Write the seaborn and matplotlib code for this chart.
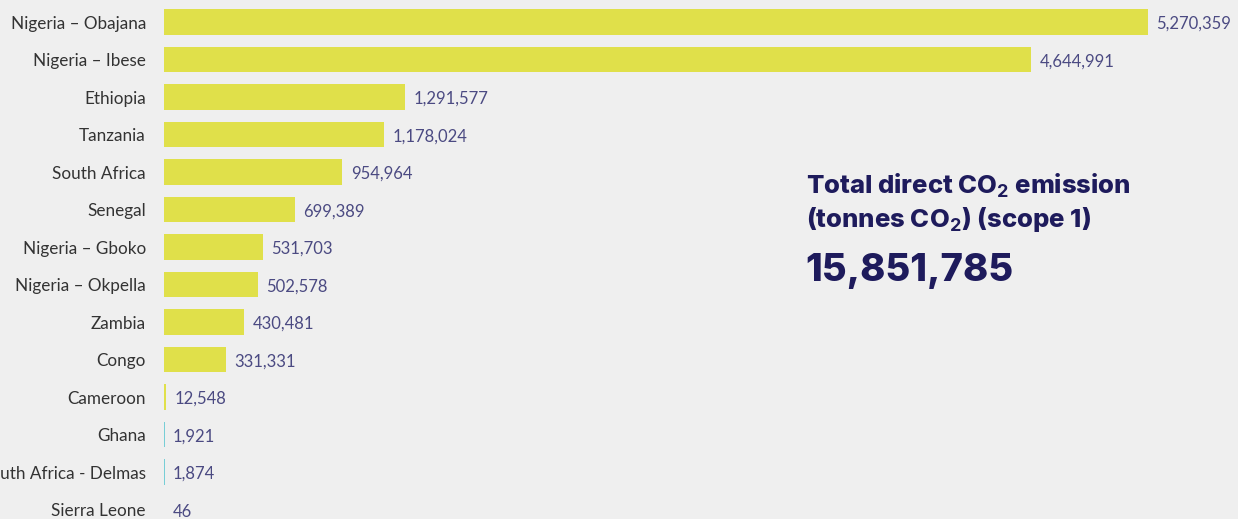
import matplotlib
matplotlib.use("Agg")
import matplotlib.pyplot as plt
import seaborn as sns
import pandas as pd

sites = ["Nigeria – Obajana", "Nigeria – Ibese", "Ethiopia", "Tanzania", "South Africa",
         "Senegal", "Nigeria – Gboko", "Nigeria – Okpella", "Zambia", "Congo",
         "Cameroon", "Ghana", "South Africa - Delmas", "Sierra Leone"]
emissions = [5270359, 4644991, 1291577, 1178024, 954964, 699389, 531703, 502578,
             430481, 331331, 12548, 1921, 1874, 46]
marker_sites = ["Ghana", "South Africa - Delmas"]
total_label = "15,851,785"

BG = "#efefef"
BAR = "#e0e04a"
VAL = "#4b4a82"
NAVY = "#1e1b5c"

sns.set_theme(style="white")
plt.rcParams["font.family"] = ["Lato", "DejaVu Sans"]
plt.rcParams["mathtext.fontset"] = "custom"
plt.rcParams["mathtext.rm"] = "Inter"
plt.rcParams["mathtext.bf"] = "Inter:bold"

df = pd.DataFrame({"site": sites, "emissions": emissions})

fig = plt.figure(figsize=(12.38, 5.19), dpi=100, facecolor=BG)
ax = fig.add_axes([164 / 1238, 0, 1074 / 1238, 1])
ax.set_facecolor(BG)

sns.barplot(data=df, y="site", x="emissions", orient="h", color=BAR,
            width=0.69, saturation=1, linewidth=0, ax=ax)

ax.set_xlim(0, 5270359 * 1074 / 984)
ax.set_ylim(13.253, -0.587)

for i, (s, v) in enumerate(zip(sites, emissions)):
    ax.annotate(f"{v:,}", xy=(v, i), xytext=(6, -1.5), textcoords="offset points",
                va="center", ha="left", fontsize=12, color=VAL)
    if s in marker_sites:
        ax.vlines(0, i - 0.345, i + 0.345, color="#5fc8d2", lw=1.2)

for sp in ax.spines.values():
    sp.set_visible(False)
ax.set_xticks([])
ax.set_xlabel("")
ax.set_ylabel("")
ax.tick_params(axis="y", length=0, pad=13, labelsize=12.3, labelcolor="#333333")

title_font = ["Inter", "DejaVu Sans"]
fig.text(806 / 1238, 1 - 186 / 519, r"Total direct CO$_\mathbf{2}$ emission",
         fontsize=18.5, fontweight="heavy", family=title_font, color=NAVY,
         va="center", ha="left")
fig.text(806 / 1238, 1 - 219 / 519, r"(tonnes CO$_\mathbf{2}$) (scope 1)",
         fontsize=18.5, fontweight="heavy", family=title_font, color=NAVY,
         va="center", ha="left")
fig.text(805 / 1238, 1 - 271 / 519, total_label,
         fontsize=27.5, fontweight="heavy", family=title_font, color=NAVY,
         va="center", ha="left")

fig.savefig("out.png", dpi=100, facecolor=BG)
